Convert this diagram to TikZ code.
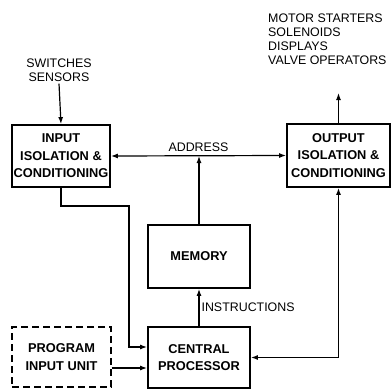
\documentclass[tikz,border=0pt]{standalone}
\usepackage{fontspec}
\setmainfont{Liberation Sans}
\usetikzlibrary{arrows.meta, positioning}

\begin{document}
\begin{tikzpicture}[x=1pt, y=-1pt,
        main/.style = {draw, line width=1.8pt, align=center, inner sep=0pt,
            minimum width=100pt, minimum height=62pt,
            font=\bfseries\fontsize{12.8}{17.5}\selectfont},
        progbox/.style = {main, line width=1.4pt, dash pattern=on 7pt off 4pt},
        txt/.style = {align=left, inner sep=2pt, font=\fontsize{12.4}{14}\selectfont},
        wire/.style = {line width=1.2pt, -{Latex[length=7pt,width=5pt]}},
        both/.style = {line width=1.2pt, {Latex[length=7pt,width=5pt]}-{Latex[length=7pt,width=5pt]}}]
    \useasboundingbox (0,0) rectangle (392,389);

    \node[main, minimum width=98pt] (in) at (61,156) {INPUT\\ISOLATION \&\\CONDITIONING};
    \node[main, minimum width=103pt, minimum height=63pt] (out) at (338.5,155.5) {OUTPUT\\ISOLATION \&\\CONDITIONING};
    \node[main, minimum width=102pt, minimum height=63pt] (mem) at (199,256.5) {MEMORY};
    \node[main, minimum width=102pt, minimum height=61pt] (cpu) at (199,357.5) {CENTRAL\\PROCESSOR};
    \node[progbox, minimum width=99pt, minimum height=60pt] (prog) at (61.5,357) {PROGRAM\\INPUT UNIT};

    % field side
    \node[txt, align=center] (sw) at (59,70) {SWITCHES\\SENSORS};
    \node[txt, anchor=north west] (acts) at (266,12) {MOTOR STARTERS\\SOLENOIDS\\DISPLAYS\\VALVE OPERATORS};
    \coordinate (actin) at (338.5,93);

    \draw[wire] (sw.south) -- (in.north);
    \draw[wire] (out.north) -- (actin);

    % address bus
    \draw[both] (in.east) -- node[txt, above=2pt] (addr) {ADDRESS} (out.west);
    \draw[wire] (mem.north) -- (mem.north |- in.east);

    % processor links
    \draw[wire] (cpu.north) -- node[txt, right] (instr) {INSTRUCTIONS} (mem.south);
    \draw[wire] (in.south) |- (129,206) |- ([yshift=10.5pt]cpu.west);
    \draw[wire] ([yshift=-11pt]prog.east) -- ([yshift=-11pt]prog.east -| cpu.west);
    \draw[both] (cpu.east) -| (out.south);
\end{tikzpicture}
\end{document}
